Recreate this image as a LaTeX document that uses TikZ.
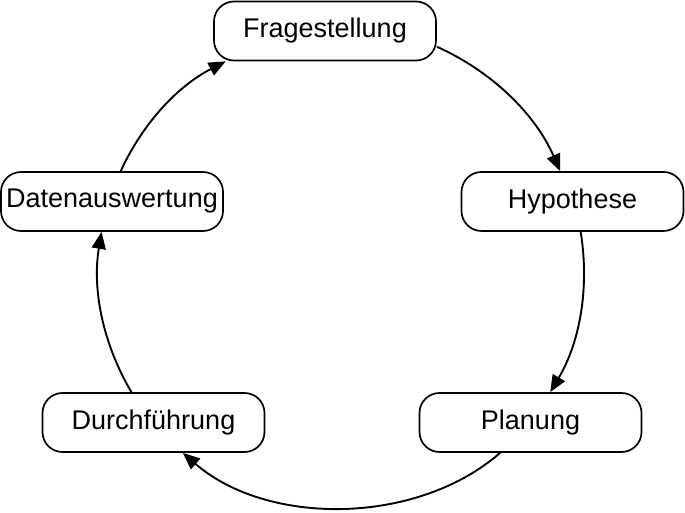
\documentclass[tikz,border=0pt]{standalone}
\usepackage{fontspec}
\setmainfont{Liberation Sans}
\usetikzlibrary{arrows.meta}

\begin{document}
\begin{tikzpicture}[x=1bp,y=1bp,
    box/.style={draw,line width=1.7bp,rounded corners=20bp,minimum width=222bp,minimum height=59bp,inner sep=2bp,font=\fontsize{27bp}{32bp}\selectfont},
    arr/.style={line width=1.9bp,-{Triangle[length=17bp,width=14bp]},looseness=0.9}]
    \useasboundingbox (0,0) rectangle (685,513);
    \node[box] (frage) at (325,482) {Fragestellung};
    \node[box] (hyp) at (572.5,311.5) {Hypothese};
    \node[box] (plan) at (530.5,90.5) {Planung};
    \node[box] (durch) at (153.5,90.5) {Durchführung};
    \node[box] (daten) at (112,311.5) {Datenauswertung};
    \draw[arr] (frage.-8) to[bend left=21] (hyp.112);
    \draw[arr] (hyp.-75) to[bend left=20] (plan.57);
    \draw[arr] (plan.-135) to[bend left=41] (durch.-46);
    \draw[arr] (durch.126) to[bend left=20] (daten.-109);
    \draw[arr] (daten.74) to[bend left=19] (frage.-163);
\end{tikzpicture}
\end{document}
